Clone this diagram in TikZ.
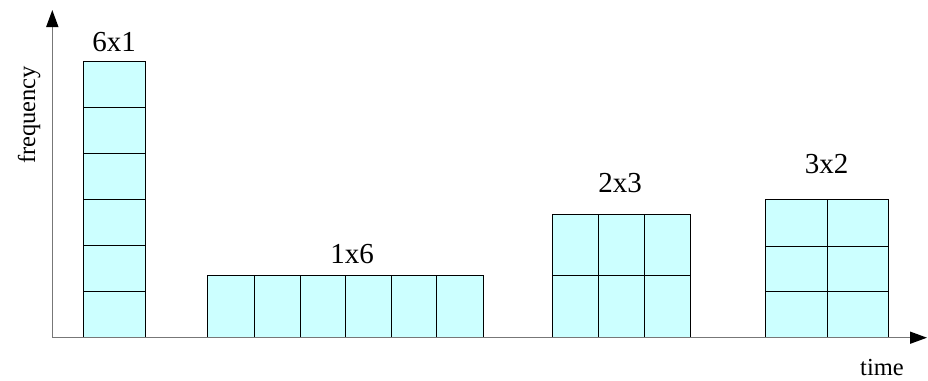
\documentclass[tikz,border=0pt]{standalone}
\usepackage{fontspec}
\setmainfont{Liberation Serif}
\usetikzlibrary{arrows.meta}
\definecolor{cellfill}{HTML}{CCFFFF}
\definecolor{axisgray}{HTML}{777777}
\begin{document}
\begin{tikzpicture}[x=1pt,y=-1pt,
  cell/.style={fill=cellfill,draw=black,line width=1pt},
  axis/.style={draw=axisgray,line width=1.5pt,-{Triangle[length=17pt,width=12pt,fill=black,color=black]}},
  lbl/.style={font=\fontsize{29}{31}\selectfont,anchor=base,inner sep=0pt},
  axlbl/.style={font=\fontsize{24.5}{26}\selectfont,anchor=base,inner sep=0pt}]
\useasboundingbox (0,0) rectangle (928,380);
% axes
\coordinate (o) at (52.3,337.7);
\coordinate (ytop) at (52.3,10);
\coordinate (xend) at (927,337.7);
% 6x1
\foreach \i in {0,...,5}{
  \draw[cell] (83.3,{61.7+\i*46}) rectangle (145.7,{61.7+(\i+1)*46});
}
% 1x6
\foreach \a/\b in {207.3/254, 254/300.3, 300.3/345, 345/391, 391/436.7, 436.7/483}{
  \draw[cell] (\a,275.7) rectangle (\b,337.7);
}
% 2x3
\foreach \a/\b in {552.3/598.7, 598.7/644.3, 644.3/690.3}{
  \draw[cell] (\a,214) rectangle (\b,275.7);
  \draw[cell] (\a,275.7) rectangle (\b,337.7);
}
% 3x2
\foreach \a/\b in {765/827, 827/888.7}{
  \draw[cell] (\a,199.7) rectangle (\b,246);
  \draw[cell] (\a,246) rectangle (\b,291.7);
  \draw[cell] (\a,291.7) rectangle (\b,337.7);
}
\draw[axis] (o) -- (ytop);
\draw[axis] (o) -- (xend);
% labels
\node[lbl] (l61) at (114,51) {6x1};
\node[lbl] (l16) at (352,263) {1x6};
\node[lbl] (l23) at (620,192.3) {2x3};
\node[lbl] (l32) at (826.5,173.3) {3x2};
\node[axlbl] (t) at (882,375) {time};
\node[axlbl,rotate=90] (f) at (35,115) {frequency};
\end{tikzpicture}
\end{document}
